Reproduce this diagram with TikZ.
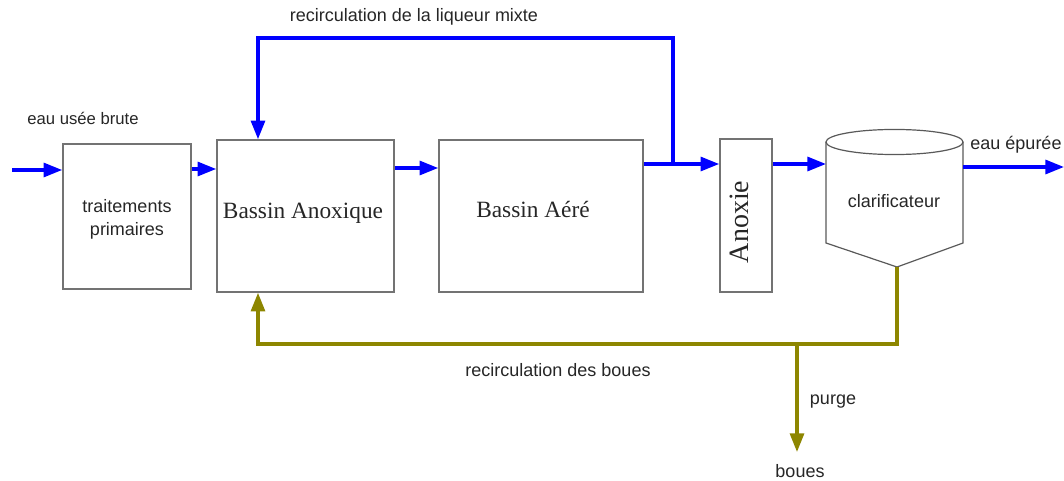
\documentclass[tikz,border=0pt]{standalone}
\usepackage{fontspec}
\setmainfont{Liberation Sans}
\newfontfamily\bassinfont{Liberation Serif}
\usetikzlibrary{arrows.meta}

\begin{document}
\begin{tikzpicture}
[x=0.75pt,y=-0.75pt,
  boxDecorate/.style={shape=rectangle,draw=black!55,line width=1.2pt,inner sep=0pt},
  clarDecorate/.style={draw=black!65,line width=0.9pt},
  blueFlow/.style={draw=blue,line width=2.4pt,-{Triangle[length=14pt,width=10.5pt]}},
  oliveFlow/.style={draw=olive,line width=2.4pt,-{Triangle[length=14pt,width=10.5pt]}},
  textDecorate/.style={anchor=base,inner sep=0pt,text=black!85,font=\fontsize{13.5}{16}\selectfont},
  bassinDecorate/.style={anchor=base,inner sep=0pt,text=black!85,font=\bassinfont\fontsize{17.5}{21}\selectfont}]
\useasboundingbox (0,0) rectangle (1064,481);
%% boxes
\foreach \nodename/\x/\y/\w/\h in {
  prim/127/216.5/128/145, anox/305.5/216/177/152,
  aere/541/216/204/152, anoxie/746/215.5/52/153}
{
  \node (\nodename) at (\x,\y) [boxDecorate,minimum width=\w*0.75pt,minimum height=\h*0.75pt] {};
}
%% clarificateur
\coordinate (clarTL) at (826,142);
\coordinate (clarTR) at (963,142);
\coordinate (clarBL) at (826,243);
\coordinate (clarBR) at (963,243);
\coordinate (clarTip) at (897,267);
\draw[clarDecorate] (clarTL) -- (clarBL) -- (clarTip) -- (clarBR) -- (clarTR);
\draw[clarDecorate] (894.5,142) ellipse [x radius=51.4pt,y radius=9.4pt];
%% texts
\node (primA) at (127,213) [textDecorate] {traitements};
\node (primB) at (127,235) [textDecorate] {primaires};
\node (anoxText) at (303,219) [bassinDecorate] {Bassin Anoxique};
\node (aereText) at (533,218) [bassinDecorate] {Bassin Aéré};
\node (anoxieText) at (748,222) [anchor=base,inner sep=0pt,rotate=90,text=black!85,
  font=\bassinfont\fontsize{21}{25}\selectfont] {Anoxie};
\node (clar) at (894,208) [textDecorate] {clarificateur};
\node (brute) at (83,125) [textDecorate,font=\fontsize{12.5}{15}\selectfont] {eau usée brute};
\node (liqueur) at (414,22) [textDecorate] {recirculation de la liqueur mixte};
\node (epuree) at (1016,150) [textDecorate] {eau épurée};
\node (bouesRec) at (558,376) [textDecorate] {recirculation des boues};
\node (purge) at (833,404) [textDecorate] {purge};
\node (boues) at (800,477) [textDecorate] {boues};
%% water line
\coordinate (inStart) at (12,170);
\coordinate (junc) at (673,164);
\coordinate (liqTop) at (258,38);
\coordinate (outEnd) at (1064,167);
\draw[blueFlow] (inStart) -- (inStart -| prim.west);
\draw[blueFlow] (prim.east |- 0,169) -- (anox.west |- 0,169);
\draw[blueFlow] (anox.east |- 0,168) -- (aere.west |- 0,168);
\draw[blueFlow] (aere.east |- junc) -- (anoxie.west |- junc);
\draw[blueFlow] (anoxie.east |- junc) -- (clarTL |- junc);
\draw[blueFlow] (clarTR |- outEnd) -- (outEnd);
\draw[blueFlow] (junc) |- (liqTop) -- (liqTop |- anox.north);
%% sludge line
\coordinate (bouesLow) at (258,344);
\coordinate (purgeJ) at (797,344);
\coordinate (purgeEnd) at (797,452);
\draw[oliveFlow] (clarTip) |- (bouesLow) -- (bouesLow |- anox.south);
\draw[oliveFlow] (purgeJ) -- (purgeEnd);
\end{tikzpicture}
\end{document}
